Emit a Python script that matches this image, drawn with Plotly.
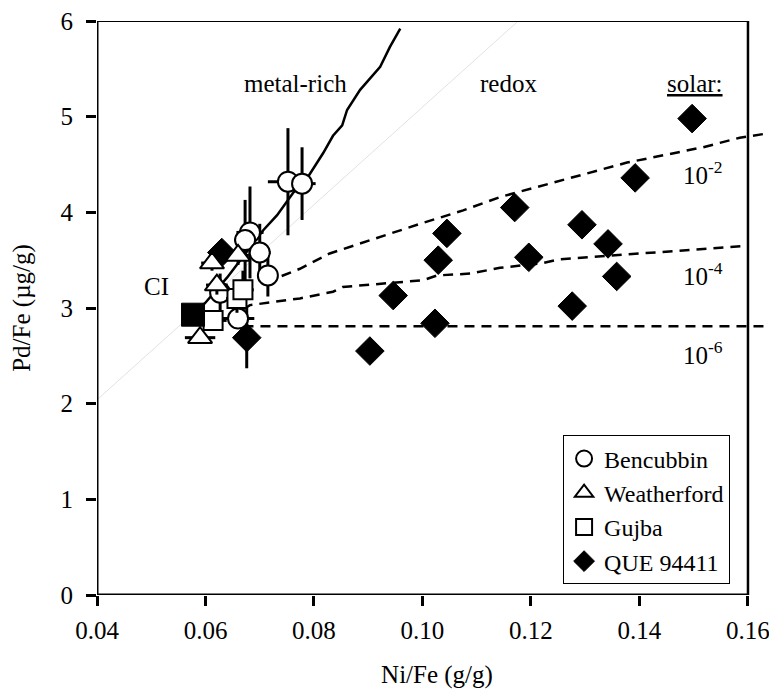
import plotly.graph_objects as go

# ---------------- data ----------------
benc_x = [0.0752, 0.0778, 0.0682, 0.0673, 0.0700, 0.0715, 0.0627, 0.0660]
benc_y = [4.32, 4.30, 3.79, 3.71, 3.58, 3.34, 3.16, 2.89]
benc_ex = [0.0037, 0.0025, 0.0025, 0.0020, 0.0020, 0.0015, 0.0015, 0.0030]
benc_ey = [0.56, 0.38, 0.48, 0.42, 0.30, 0.22, 0.20, 0.06]

weat_x = [0.0590, 0.0612, 0.0621, 0.0660]
weat_y = [2.69, 3.47, 3.24, 3.55]
weat_ex = [0.0028, 0.0020, 0.0020, 0.0020]
weat_ey = [0.05, 0.08, 0.10, 0.10]

gujb_x = [0.0614, 0.0658, 0.0669]
gujb_y = [2.87, 3.10, 3.19]
gujb_ex = [0.0025, 0.0020, 0.0020]
gujb_ey = [0.05, 0.15, 0.20]

que_x = [0.0630, 0.0676, 0.0903, 0.0946, 0.1023, 0.1029, 0.1045, 0.1170,
         0.1196, 0.1276, 0.1294, 0.1342, 0.1358, 0.1392, 0.1497]
que_y = [3.58, 2.69, 2.55, 3.13, 2.84, 3.50, 3.78, 4.05,
         3.53, 3.02, 3.87, 3.67, 3.33, 4.36, 4.98]
que_ey = [0.10, 0.32, 0, 0, 0, 0, 0, 0, 0, 0, 0, 0, 0, 0, 0]

ci_x = [0.0577]
ci_y = [2.93]

metal_x = [0.0577, 0.0599, 0.0640, 0.0706, 0.0732, 0.0761, 0.0790, 0.0817,
           0.0835, 0.0852, 0.0861, 0.0885, 0.0922, 0.0940, 0.0959]
metal_y = [2.93, 3.05, 3.32, 3.81, 3.97, 4.20, 4.38, 4.62,
           4.80, 4.91, 5.07, 5.28, 5.52, 5.73, 5.92]

r2_x = [0.0712, 0.0734, 0.0774, 0.0829, 0.1001, 0.1075, 0.1143, 0.1377, 0.1517, 0.1585, 0.1653]
r2_y = [3.26, 3.32, 3.41, 3.57, 3.89, 4.02, 4.16, 4.52, 4.68, 4.78, 4.84]

r4_x = [0.0670, 0.0682, 0.0774, 0.0835, 0.0853, 0.1001, 0.1027, 0.1088, 0.1143, 0.1222, 0.1253, 0.1600]
r4_y = [2.99, 3.03, 3.10, 3.17, 3.22, 3.29, 3.34, 3.36, 3.42, 3.47, 3.51, 3.65]

r6_x = [0.0670, 0.1630]
r6_y = [2.81, 2.81]

ci_line_x = [0.0400, 0.1176]
ci_line_slope = 51.0

FONT = "Liberation Serif, Times New Roman, Times, serif"

fig = go.Figure()

# faint CI-ratio line
fig.add_trace(go.Scatter(x=ci_line_x, y=[ci_line_slope * v for v in ci_line_x], mode="lines",
                         line=dict(color="#e2e2e2", width=1), showlegend=False, hoverinfo="skip"))

dash = "10px,7px"
for xs, ys in [(r2_x, r2_y), (r4_x, r4_y), (r6_x, r6_y)]:
    fig.add_trace(go.Scatter(x=xs, y=ys, mode="lines",
                             line=dict(color="black", width=2.5, dash=dash),
                             showlegend=False, hoverinfo="skip"))

fig.add_trace(go.Scatter(x=metal_x, y=metal_y, mode="lines",
                         line=dict(color="black", width=2.5),
                         showlegend=False, hoverinfo="skip"))

def err(arr):
    return dict(type="data", array=arr, visible=True, color="black", thickness=3, width=0)

fig.add_trace(go.Scatter(x=que_x, y=que_y, mode="markers", name="QUE 94411",
                         error_y=err(que_ey),
                         marker=dict(symbol="diamond", size=22, color="black",
                                     line=dict(color="black", width=1)),
                         legendrank=4, legendgroup="d"))
fig.add_trace(go.Scatter(x=benc_x, y=benc_y, mode="markers", name="Bencubbin",
                         error_x=err(benc_ex), error_y=err(benc_ey),
                         marker=dict(symbol="circle", size=20, color="white",
                                     line=dict(color="black", width=2)),
                         legendrank=1, legendgroup="a"))
fig.add_trace(go.Scatter(x=gujb_x, y=gujb_y, mode="markers", name="Gujba",
                         error_x=err(gujb_ex), error_y=err(gujb_ey),
                         marker=dict(symbol="square", size=19, color="white",
                                     line=dict(color="black", width=2)),
                         legendrank=3, legendgroup="c"))
fig.add_trace(go.Scatter(x=weat_x, y=weat_y, mode="markers", name="Weatherford",
                         error_x=err(weat_ex), error_y=err(weat_ey),
                         marker=dict(symbol="triangle-up", size=21, color="white",
                                     line=dict(color="black", width=2)),
                         legendrank=2, legendgroup="b"))
fig.add_trace(go.Scatter(x=ci_x, y=ci_y, mode="markers", showlegend=False,
                         marker=dict(symbol="square", size=23, color="black",
                                     line=dict(color="black", width=1))))

# frame
fig.add_shape(type="line", x0=0.04, x1=0.16, y0=6, y1=6, xref="x", yref="y",
              line=dict(color="black", width=2))
fig.add_shape(type="line", x0=0.16, x1=0.16, y0=0, y1=6, xref="x", yref="y",
              line=dict(color="black", width=2.5))
fig.add_shape(type="line", x0=0.04, x1=0.16, y0=0, y1=0, xref="x", yref="y",
              line=dict(color="black", width=3))
fig.add_shape(type="line", x0=0.04, x1=0.04, y0=0, y1=6, xref="x", yref="y",
              line=dict(color="black", width=3))

ann_font = dict(family=FONT, size=25, color="black")
for txt, ax, ay in [("metal-rich", 0.0765, 5.35), ("redox", 0.1158, 5.35),
                    ("<u>solar:</u>", 0.1502, 5.35), ("10<sup>-2</sup>", 0.1517, 4.41),
                    ("10<sup>-4</sup>", 0.1517, 3.36), ("10<sup>-6</sup>", 0.1517, 2.53),
                    ("CI", 0.0509, 3.22)]:
    fig.add_annotation(x=ax, y=ay, xref="x", yref="y", text=txt, showarrow=False,
                       font=ann_font, xanchor="center", yanchor="middle")

fig.update_layout(
    width=769, height=687,
    margin=dict(l=89, r=0, t=13, b=100, autoexpand=False),
    plot_bgcolor="white", paper_bgcolor="white",
    font=dict(family=FONT, size=24, color="black"),
    showlegend=True,
    legend=dict(x=0.931, y=0.278, xanchor="right", yanchor="top",
                bgcolor="white", bordercolor="black", borderwidth=1,
                font=dict(family=FONT, size=24, color="black"),
                traceorder="grouped", tracegroupgap=0, itemwidth=30),
    xaxis=dict(range=[0.04, 0.16535], tickmode="array",
               tickvals=[0.04, 0.06, 0.08, 0.10, 0.12, 0.14, 0.16],
               ticktext=["0.04", "0.06", "0.08", "0.10", "0.12", "0.14", "0.16"],
               ticks="outside", ticklen=10, tickwidth=3, tickcolor="black",
               ticklabelstandoff=3, tickfont=dict(size=25), ticklabeloverflow="allow",
               showline=False, showgrid=False, zeroline=False,
               title=dict(text="Ni/Fe (g/g)", standoff=22, font=dict(size=25))),
    yaxis=dict(range=[0, 6], tickmode="linear", tick0=0, dtick=1,
               ticks="outside", ticklen=10, tickwidth=3, tickcolor="black",
               ticklabelstandoff=8, tickfont=dict(size=25), ticklabeloverflow="allow",
               showline=False, showgrid=False, zeroline=False,
               title=dict(text="Pd/Fe (µg/g)", standoff=26, font=dict(size=25))),
)

fig.write_html("out.html")
